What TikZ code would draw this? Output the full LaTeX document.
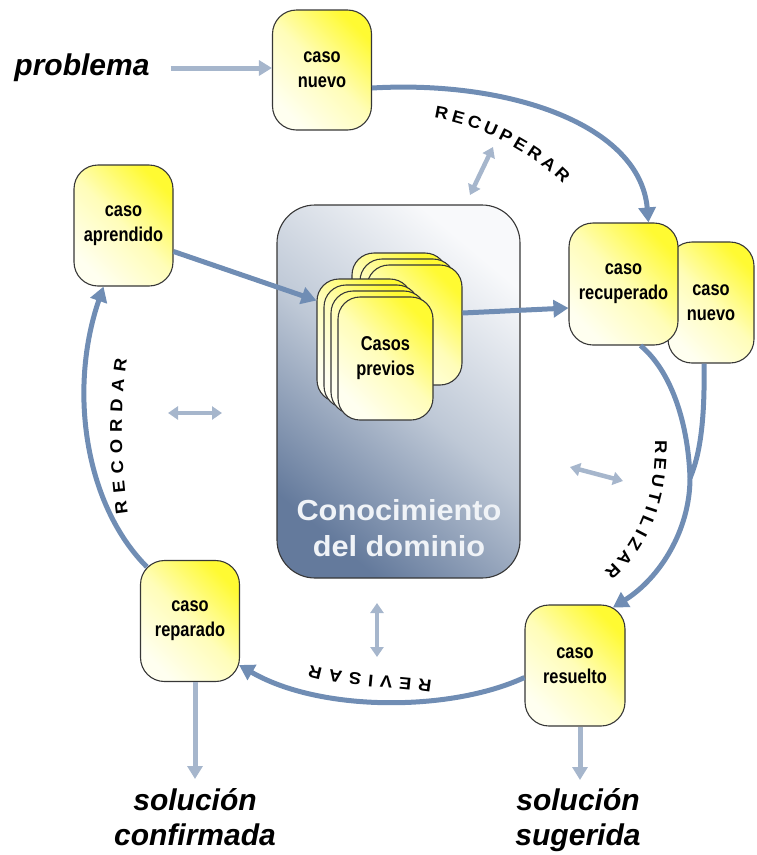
\documentclass[tikz,border=0pt]{standalone}
\usepackage{fontspec}
\setmainfont{Liberation Sans}
\newfontfamily\casefont[FakeStretch=0.82]{Liberation Sans}
\newfontfamily\kbfont[FakeStretch=1.06]{Liberation Sans}
\newfontfamily\phasefont[FakeStretch=1.08]{Liberation Sans Bold}
\usetikzlibrary{arrows.meta,decorations.text}

\definecolor{flow}{RGB}{112,141,180}
\definecolor{flowpale}{RGB}{166,182,204}
\definecolor{caseyellow}{RGB}{255,250,50}
\definecolor{casemid}{RGB}{255,253,185}
\definecolor{casecream}{RGB}{255,255,240}
\definecolor{kbdark}{RGB}{100,122,156}
\definecolor{kbmid}{RGB}{190,200,214}
\definecolor{kblight}{RGB}{248,249,251}
\definecolor{rim}{RGB}{55,55,55}
\definecolor{kbtextcol}{RGB}{240,243,247}

\tikzset{
  casebox/.style={draw=rim, line width=1.1pt, rounded corners=24pt,
    top color=caseyellow, bottom color=casecream, middle color=casemid,
    shading angle=-45,
    inner sep=0pt, align=center,
    font=\casefont\bfseries\fontsize{20}{25}\selectfont,
    execute at begin node={\rule{0pt}{18pt}}},
  stackbox/.style={casebox, rounded corners=22pt, minimum width=95pt,
    execute at begin node={}},
  cycle/.style={draw=flow, line width=5pt, -{Triangle[length=15pt,width=17pt]}},
  cycleplain/.style={draw=flow, line width=5pt},
  feed/.style={draw=flowpale, line width=5pt, -{Triangle[length=13pt,width=15pt]}},
  exchange/.style={draw=flowpale, line width=4.5pt,
    {Triangle[length=10pt,width=13pt]}-{Triangle[length=10pt,width=13pt]}},
  outside/.style={inner sep=0pt, align=center,
    font=\bfseries\itshape\fontsize{30}{35}\selectfont},
  phase/.style={font=\phasefont\fontsize{17}{17}\selectfont,
    decorate, decoration={text along path, text align=fit to path,
    text={|\phasefont\fontsize{17}{17}\selectfont|#1}}},
}

\begin{document}
\begin{tikzpicture}[x=1pt,y=-1pt]
\useasboundingbox (0,0) rectangle (756,855);

% knowledge container
\node[draw=rim, line width=1.1pt, rounded corners=38pt,
      minimum width=243pt, minimum height=373pt,
      top color=kblight, bottom color=kbdark, middle color=kbmid,
      shading angle=-40] (kb) at (398.5,391.5) {};
\node[inner sep=0pt, align=center, text=kbtextcol,
      font=\kbfont\bfseries\fontsize{29}{36}\selectfont]
      (kbtext) at (399,528) {Conocimiento\\del dominio};

% stack of stored cases
\node[stackbox, minimum height=120pt] (prevB1) at (399.5,313) {};
\node[stackbox, minimum height=120pt] (prevB2) at (407.5,319) {};
\node[stackbox, minimum height=120pt] (prevB3) at (414.5,325) {};
\node[stackbox, minimum height=123pt] (prevA1) at (364.5,340.5) {};
\node[stackbox, minimum height=123pt] (prevA2) at (371.5,346.5) {};
\node[stackbox, minimum height=123pt] (prevA3) at (378.5,352.5) {};
\node[stackbox, minimum height=123pt] (prevA4) at (385.5,358.5) {Casos\\previos};

% case boxes
\node[casebox, minimum width=99pt, minimum height=120pt] (nuevoA) at (322,70) {caso\\nuevo};
\node[casebox, minimum width=99pt, minimum height=121pt] (aprend) at (123.5,225.5) {caso\\aprendido};
\node[casebox, minimum width=86pt, minimum height=121pt] (nuevoB) at (711,302.5) {caso\\nuevo};
\node[casebox, minimum width=109pt, minimum height=122pt] (recup) at (623.5,284) {caso\\recuperado};
\node[casebox, minimum width=99pt, minimum height=121pt] (repar) at (190,621) {caso\\reparado};
\node[casebox, minimum width=100pt, minimum height=121pt] (resuel) at (575,665.5) {caso\\resuelto};

% inputs and outputs
\node[outside] (prob) at (82,68) {problema};
\node[outside, anchor=north] (solconf) at (195,788) {solución\\confirmada};
\node[outside, anchor=north] (solsug) at (578,788) {solución\\sugerida};
\coordinate (confTip) at (195,779);
\coordinate (sugTip) at (580,780);
\draw[feed] ([xshift=21pt]prob.east) -- (prob.east -| nuevoA.west);
\draw[feed] ([xshift=5pt]repar.south) -- (confTip);
\draw[feed] ([xshift=5pt]resuel.south) -- (sugTip);

% main cycle
\draw[cycle] ([yshift=-18pt]nuevoA.east) .. controls (510,80) and (640,125) .. ([xshift=25pt]recup.north);
\draw[cycle] ([yshift=-26pt]aprend.east) -- ([yshift=40pt]prevA1.west);
\draw[cycle] ([yshift=12pt]prevB3.east) -- ([yshift=-24pt]recup.west);
\coordinate (merge) at (690,478);
\draw[cycleplain] ([xshift=-7pt]nuevoB.south) .. controls (705,420) and (700,455) .. (merge);
\draw[cycle] ([xshift=17pt]recup.south) .. controls (670,370) and (688,420) .. (merge)
      .. controls (690,530) and (660,578) .. ([xshift=38pt,yshift=-3pt]resuel.north);
\draw[cycle] ([yshift=-12pt]resuel.west) .. controls (450,712) and (320,712) .. ([xshift=-1pt,yshift=-44pt]repar.east);
\draw[cycle] ([xshift=7pt,yshift=-7pt]repar.north west) .. controls (85,505) and (68,390) .. ([xshift=-20pt]aprend.south);

% exchanges with the domain knowledge
\coordinate (xA1) at (470,195); \coordinate (xA2) at (493,147);
\coordinate (xB1) at (168,413); \coordinate (xB2) at (222,413);
\coordinate (xC1) at (570,467); \coordinate (xC2) at (623,481);
\coordinate (xD1) at (377,603); \coordinate (xD2) at (377,657);
\draw[exchange] (xA1) -- (xA2);
\draw[exchange] (xB1) -- (xB2);
\draw[exchange] (xC1) -- (xC2);
\draw[exchange] (xD1) -- (xD2);

% phase names along the cycle
\path[phase=RECUPERAR] (434,118) .. controls (475,124) and (530,150) .. (563,184);
\path[phase=REUTILIZAR] (655,440) .. controls (656,492) and (642,538) .. (604,572);
\path[phase=REVISAR] (432,681) .. controls (400,676) and (345,675) .. (310,665);
\path[phase=RECORDAR] (128,513) .. controls (121,465) and (119,410) .. (127,359);
\end{tikzpicture}
\end{document}
